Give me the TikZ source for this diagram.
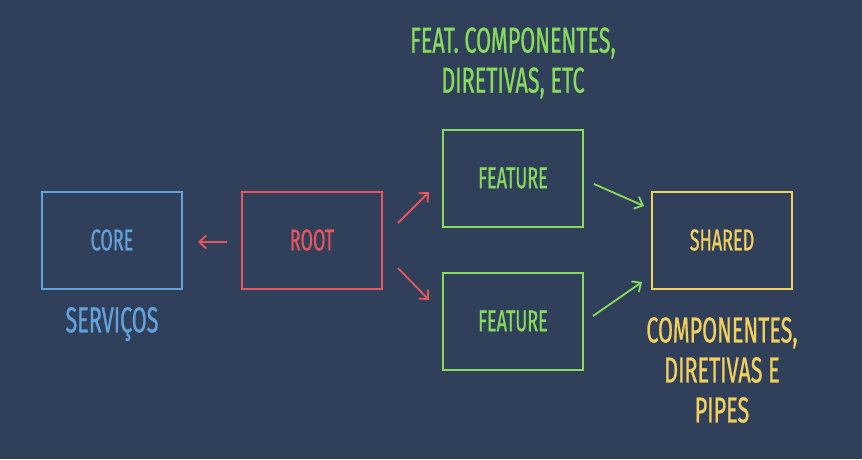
\documentclass[tikz,border=0pt]{standalone}
\usepackage{fontspec}
\setmainfont[FakeStretch=0.6,FakeBold=0.7]{Fira Sans}
\usetikzlibrary{arrows.meta}
\definecolor{board}{HTML}{31405A}
\definecolor{cblue}{HTML}{62A2DE}
\definecolor{cred}{HTML}{E8555C}
\definecolor{cgreen}{HTML}{86DB5C}
\definecolor{cyellow}{HTML}{F3CF5C}
\tikzset{
  box/.style={draw, line width=2pt, minimum width=140pt, minimum height=97pt, inner sep=0pt, font=\fontsize{30}{34}\selectfont},
  conn/.style={line width=1.8pt, -{Straight Barb[length=7pt,width=13pt,line width=1.8pt]}},
  lbl/.style={align=center, font=\fontsize{36}{40}\selectfont}
}
\begin{document}
\begin{tikzpicture}[x=1pt,y=-1pt]
\fill[board] (0,0) rectangle (862,459);
\useasboundingbox (0,0) rectangle (862,459);
\node[box, cblue, text=cblue] (core) at (112,240) {CORE};
\node[box, cred, text=cred] (root) at (312,240) {ROOT};
\node[box, cgreen, text=cgreen] (f1) at (513,178) {FEATURE};
\node[box, cgreen, text=cgreen] (f2) at (513,321) {FEATURE};
\node[box, cyellow, text=cyellow] (shared) at (722,240) {SHARED};
\node[lbl, text=cblue] (serv) at (112,324) {SERVIÇOS};
\node[lbl, text=cgreen] (feat) at (513,63) {FEAT. COMPONENTES,\\DIRETIVAS, ETC};
\node[lbl, text=cyellow] (comp) at (722,370) {COMPONENTES,\\DIRETIVAS E\\PIPES};
\draw[conn, cred] ([xshift=-14pt,yshift=-2pt]root.west) -- ([xshift=15pt,yshift=-2pt]core.east);
\draw[conn, cred] ([xshift=15pt,yshift=17pt]root.east) -- ([xshift=-13pt,yshift=-14pt]f1.west);
\draw[conn, cred] ([xshift=15pt,yshift=-28pt]root.east) -- ([xshift=-13pt,yshift=21pt]f2.west);
\draw[conn, cgreen] ([xshift=10pt,yshift=-6pt]f1.east) -- ([xshift=-7pt,yshift=34pt]shared.west);
\draw[conn, cgreen] ([xshift=9pt,yshift=5pt]f2.east) -- ([xshift=-9pt,yshift=-42pt]shared.west);
\end{tikzpicture}
\end{document}
